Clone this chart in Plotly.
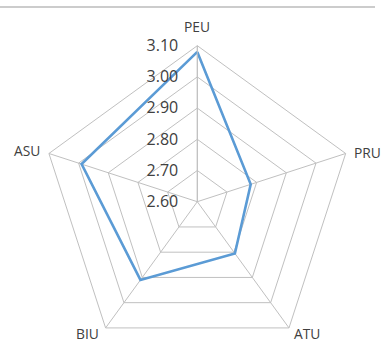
import plotly.graph_objects as go

categories = ["PEU", "PRU", "ATU", "BIU", "ASU"]
values = [3.08, 2.78, 2.805, 2.91, 2.99]
tick_vals = [2.6, 2.7, 2.8, 2.9, 3.0, 3.1]
tick_text = ["2.60", "2.70", "2.80", "2.90", "3.00", "3.10"]

W, H = 381, 360
cx, cy, R = 197.3, 201.7, 156.0

fig = go.Figure()
fig.add_trace(go.Scatterpolar(
    r=values + values[:1],
    theta=categories + categories[:1],
    mode="lines",
    line=dict(color="#5b9bd5", width=2.6),
    hoverinfo="skip",
))

grid = "#c0c0c0"
txt = "#404040"

# category label placement (pixels from top-left): x, y, xanchor
label_pos = {
    "PEU": (196.5, 27, "center"),
    "PRU": (352, 152, "left"),
    "ATU": (292, 333, "left"),
    "BIU": (101, 333, "right"),
    "ASU": (42, 151, "right"),
}
annotations = []
for c in categories:
    x, y, xa = label_pos[c]
    annotations.append(dict(
        text=c, x=x / W, y=(H - y) / H, xref="paper", yref="paper",
        xanchor=xa, yanchor="middle", showarrow=False,
        font=dict(size=13.8, color=txt),
    ))

fig.update_layout(
    width=W, height=H, autosize=False,
    margin=dict(l=0, r=0, t=0, b=0),
    paper_bgcolor="white", plot_bgcolor="white",
    showlegend=False,
    font=dict(family="Open Sans, Liberation Sans, sans-serif", color=txt),
    polar=dict(
        bgcolor="white",
        gridshape="linear",
        domain=dict(x=[(cx - R) / W, (cx + R) / W],
                    y=[(H - cy - R) / H, (H - cy + R) / H]),
        angularaxis=dict(
            rotation=90, direction="clockwise",
            categoryorder="array", categoryarray=categories,
            showline=True, linecolor=grid, linewidth=1,
            gridcolor=grid, gridwidth=1,
            ticks="", showticklabels=False,
        ),
        radialaxis=dict(
            range=[2.6, 3.1], angle=90, tickangle=90,
            tickvals=tick_vals, ticktext=tick_text,
            showline=True, linecolor=grid, linewidth=1,
            gridcolor=grid, gridwidth=1,
            ticks="outside", ticklen=13, tickcolor="rgba(0,0,0,0)",
            side="counterclockwise",
            tickfont=dict(size=16, color=txt),
        ),
    ),
    annotations=annotations,
    shapes=[dict(type="line", xref="paper", yref="paper",
                 x0=0, x1=375 / W, y0=(H - 7) / H, y1=(H - 7) / H,
                 line=dict(color="#999999", width=1))],
)

fig.write_html("out.html",
               post_script="document.documentElement.style.overflow='hidden';document.body.style.overflow='hidden';")
